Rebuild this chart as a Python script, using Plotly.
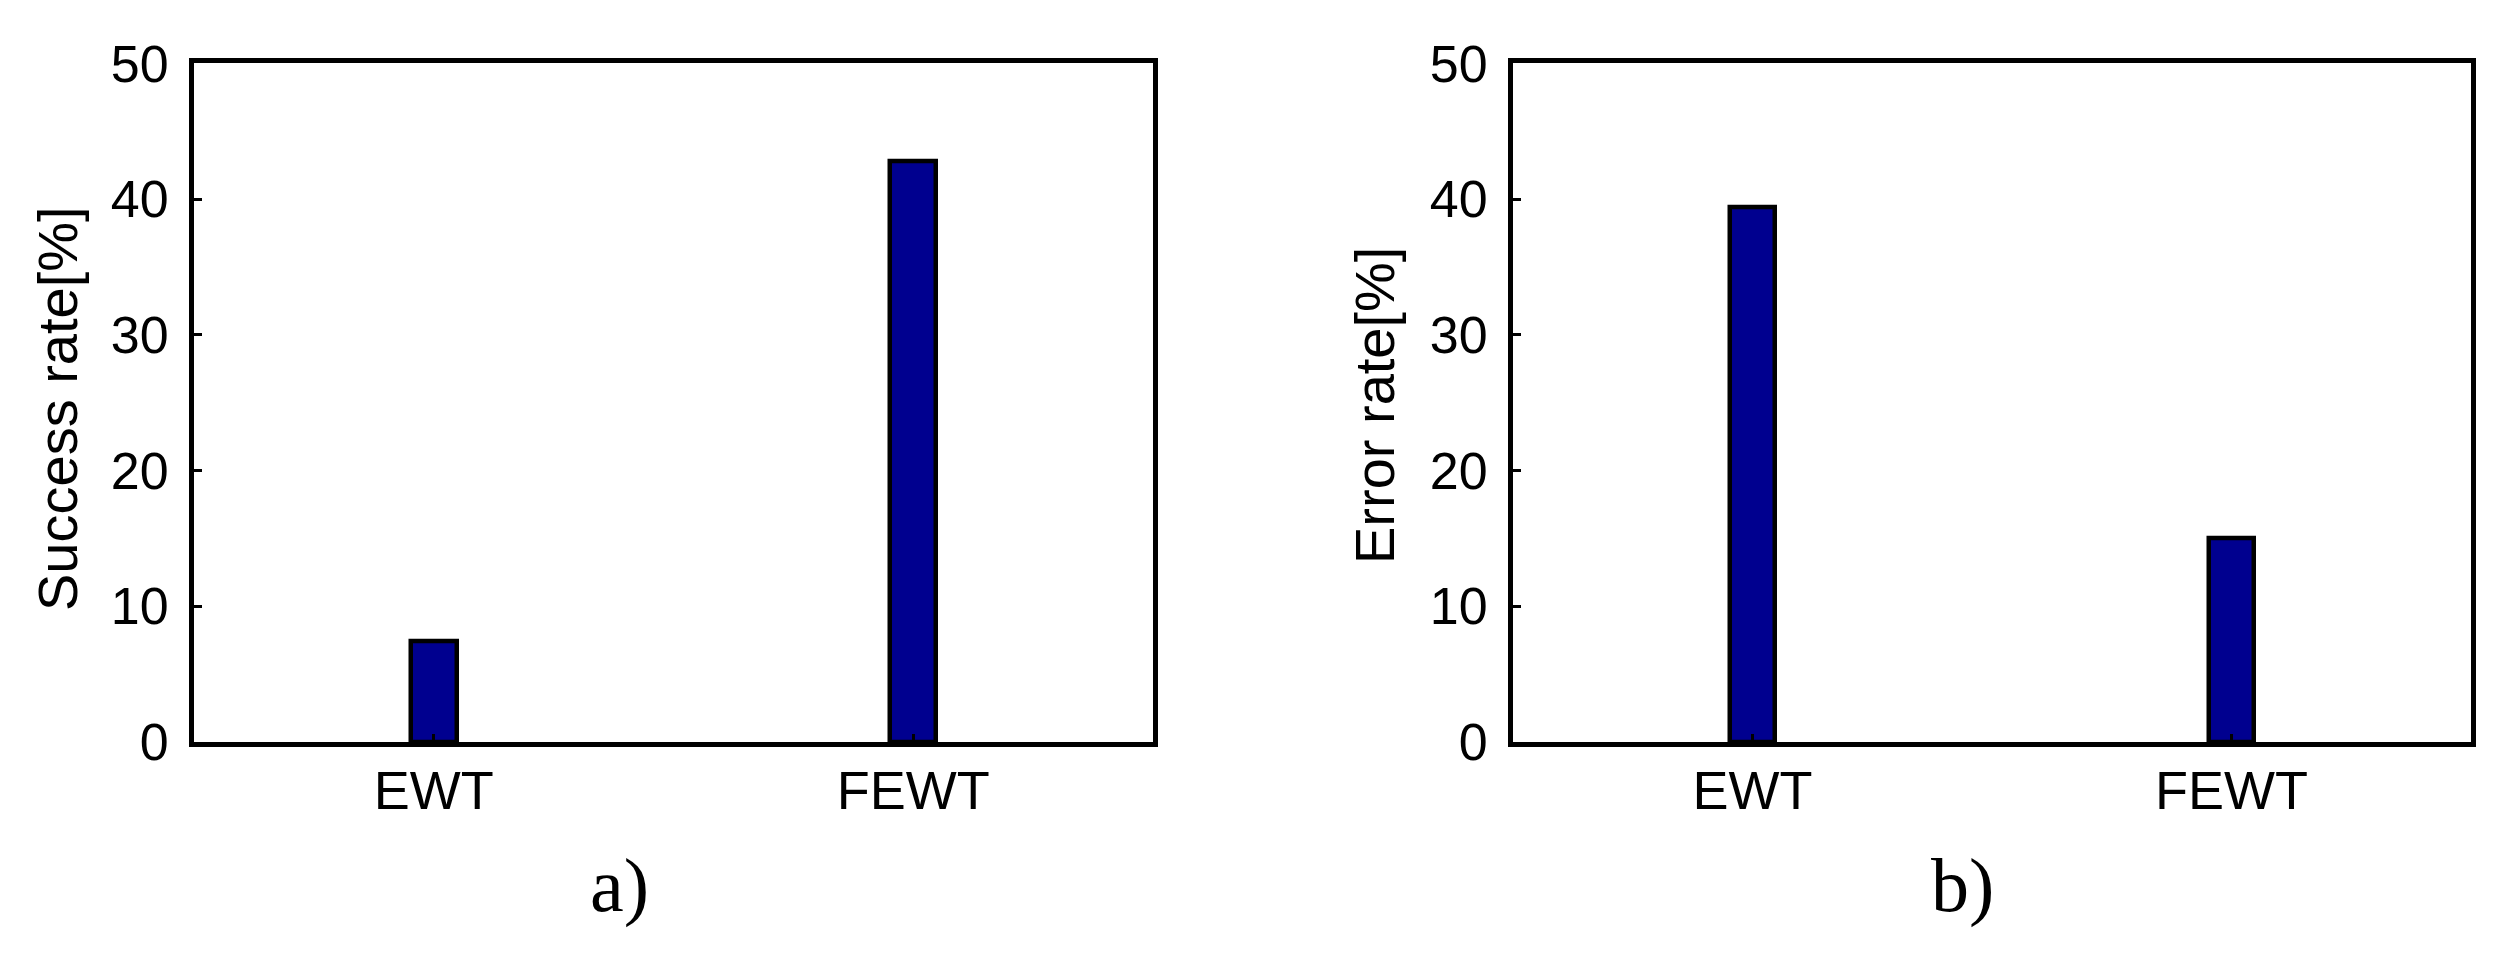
import plotly.graph_objects as go

categories = ["EWT", "FEWT"]
success_rate = [7.4, 42.8]
error_rate = [39.4, 15.0]
y_ticks = [0, 10, 20, 30, 40, 50]
y_titles = ["Success rate[%]", "Error rate[%]"]
panel_labels = ["a)", "b)"]

W, H = 2504, 956
OFF = 4  # page body offset compensation
BAR_COLOR = "#00008F"
FONT = "Arial, Liberation Sans, Helvetica, sans-serif"


def px_x(v):
    return (v - OFF) / W


def px_y(v):
    return 1 - (v - OFF) / H


fig = go.Figure()
fig.add_trace(go.Bar(x=categories, y=success_rate, width=0.095, xaxis="x", yaxis="y",
                     marker=dict(color=BAR_COLOR, line=dict(color="black", width=4.5)),
                     showlegend=False))
fig.add_trace(go.Bar(x=categories, y=error_rate, width=0.095, xaxis="x2", yaxis="y2",
                     marker=dict(color=BAR_COLOR, line=dict(color="black", width=4.5)),
                     showlegend=False))

ydom = [px_y(738), px_y(59.3)]
dom1 = [px_x(190), px_x(1149)]
dom2 = [px_x(1509), px_x(2467)]

xcommon = dict(type="category", range=[-0.5, 1.5], showline=True, linecolor="black", linewidth=5,
               mirror=True, ticks="inside", ticklen=8, tickwidth=3, tickcolor="black",
               showgrid=False, zeroline=False, fixedrange=True, automargin=False,
               tickfont=dict(family=FONT, size=54, color="black"), ticklabelstandoff=-3)
ycommon = dict(range=[0, 50], tickvals=y_ticks, showline=True, linecolor="black", linewidth=5,
               mirror=True, ticks="inside", ticklen=8, tickwidth=3, tickcolor="black",
               showgrid=False, zeroline=False, fixedrange=True, automargin=False,
               tickfont=dict(family=FONT, size=52, color="black"), ticklabelstandoff=10)

fig.update_layout(
    width=W, height=H,
    margin=dict(l=0, r=0, t=0, b=0, autoexpand=False),
    paper_bgcolor="white", plot_bgcolor="white",
    bargap=0,
    xaxis=dict(domain=dom1, anchor="y", **xcommon),
    yaxis=dict(domain=ydom, anchor="x", **ycommon),
    xaxis2=dict(domain=dom2, anchor="y2", **xcommon),
    yaxis2=dict(domain=ydom, anchor="x2", **ycommon),
)

# y-axis titles
fig.add_annotation(text=y_titles[0], x=px_x(53), y=px_y(405), xref="paper", yref="paper",
                   textangle=-90, showarrow=False, xanchor="center", yanchor="middle",
                   font=dict(family=FONT, size=56, color="black"))
fig.add_annotation(text=y_titles[1], x=px_x(1370), y=px_y(402), xref="paper", yref="paper",
                   textangle=-90, showarrow=False, xanchor="center", yanchor="middle",
                   font=dict(family=FONT, size=56, color="black"))

# panel labels
serif = dict(family="Liberation Serif, Times New Roman, serif", size=76, color="black")
fig.add_annotation(text=panel_labels[0], x=px_x(615), y=px_y(881), xref="paper", yref="paper",
                   showarrow=False, xanchor="center", yanchor="middle", font=serif)
fig.add_annotation(text=panel_labels[1], x=px_x(1958), y=px_y(881), xref="paper", yref="paper",
                   showarrow=False, xanchor="center", yanchor="middle", font=serif)

fig.write_html("out.html")
